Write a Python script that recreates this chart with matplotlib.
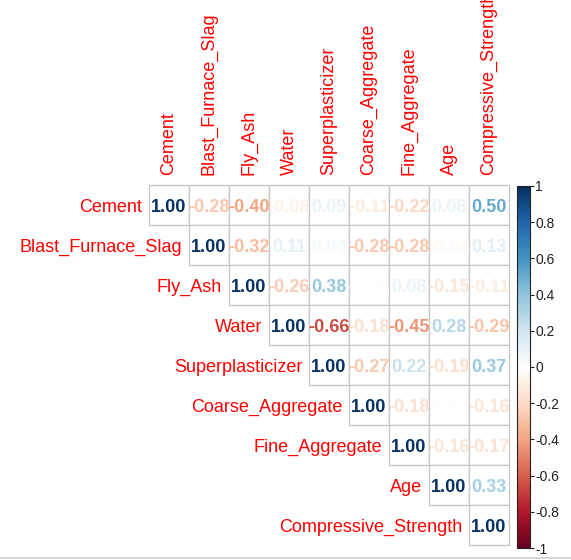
import numpy as np
import matplotlib
matplotlib.use("Agg")
import matplotlib.pyplot as plt
from matplotlib.colors import LinearSegmentedColormap, Normalize
from matplotlib.patches import Rectangle
from matplotlib.colorbar import ColorbarBase
from matplotlib.lines import Line2D

plt.rcParams['font.family'] = ['Liberation Sans', 'DejaVu Sans']

variables = ["Cement", "Blast_Furnace_Slag", "Fly_Ash", "Water", "Superplasticizer",
             "Coarse_Aggregate", "Fine_Aggregate", "Age", "Compressive_Strength"]

# upper triangle rows (from the diagonal to the right)
row_cement = [1.00, -0.28, -0.40, -0.08, 0.09, -0.11, -0.22, 0.08, 0.50]
row_slag = [1.00, -0.32, 0.11, 0.04, -0.28, -0.28, -0.04, 0.13]
row_flyash = [1.00, -0.26, 0.38, -0.01, 0.08, -0.15, -0.11]
row_water = [1.00, -0.66, -0.18, -0.45, 0.28, -0.29]
row_super = [1.00, -0.27, 0.22, -0.19, 0.37]
row_coarse = [1.00, -0.18, 0.00, -0.16]
row_fine = [1.00, -0.16, -0.17]
row_age = [1.00, 0.33]
row_cs = [1.00]
rows = [row_cement, row_slag, row_flyash, row_water, row_super,
        row_coarse, row_fine, row_age, row_cs]

cbar_ticks = [1, 0.8, 0.6, 0.4, 0.2, 0, -0.2, -0.4, -0.6, -0.8, -1]
cbar_labels = ["1", "0.8", "0.6", "0.4", "0.2", "0", "-0.2", "-0.4", "-0.6", "-0.8", "-1"]

col2 = ["#67001F", "#B2182B", "#D6604D", "#F4A582", "#FDDBC7", "#FFFFFF",
        "#D1E5F0", "#92C5DE", "#4393C3", "#2166AC", "#053061"]
cmap = LinearSegmentedColormap.from_list("RdBu_corr", col2, N=200)
norm = Normalize(-1, 1)

W, H = 571, 560
fig = plt.figure(figsize=(W / 100, H / 100), dpi=100)

n = len(variables)
gx0, gy_top, cell = 149, 185, 40
ax = fig.add_axes([gx0 / W, 1 - (gy_top + n * cell) / H, n * cell / W, n * cell / H])
ax.set_xlim(0, n)
ax.set_ylim(n, 0)
ax.axis("off")

for i, r in enumerate(rows):
    for k, v in enumerate(r):
        j = i + k
        ax.add_patch(Rectangle((j, i), 1, 1, facecolor="white", edgecolor="#C8C8C8",
                               lw=1.0, zorder=1, clip_on=False))
    for k, v in enumerate(r):
        j = i + k
        ax.text(j + 0.5, i + 0.56, f"{v:.2f}", ha="center", va="center",
                fontsize=13, fontweight="bold", color=cmap(norm(v)), zorder=3,
                clip_on=False)

for i, name in enumerate(variables):
    ax.text(i - 0.17, i + 0.56, name, ha="right", va="center", fontsize=13,
            color="#FF0000", clip_on=False)
    ax.text(i + 0.5, -0.25, name, ha="center", va="bottom", rotation=90,
            fontsize=13, color="#FF0000", clip_on=False)

# colorbar
cb_top, cb_bot = 186, 548
cax = fig.add_axes([516.5 / W, 1 - cb_bot / H, 13 / W, (cb_bot - cb_top) / H])
cb = ColorbarBase(cax, cmap=cmap, norm=norm, orientation="vertical")
cb.set_ticks(cbar_ticks)
cb.set_ticklabels(cbar_labels)
cb.outline.set_edgecolor("#222222")
cb.outline.set_linewidth(0.8)
cax.tick_params(labelsize=10, length=3, width=0.8, pad=1, colors="#222222")

fig.add_artist(Line2D([0, 1], [1 - 557.5 / H, 1 - 557.5 / H], transform=fig.transFigure,
                      color="#D0D0D0", lw=1.2))

fig.savefig("out.png", dpi=100)
